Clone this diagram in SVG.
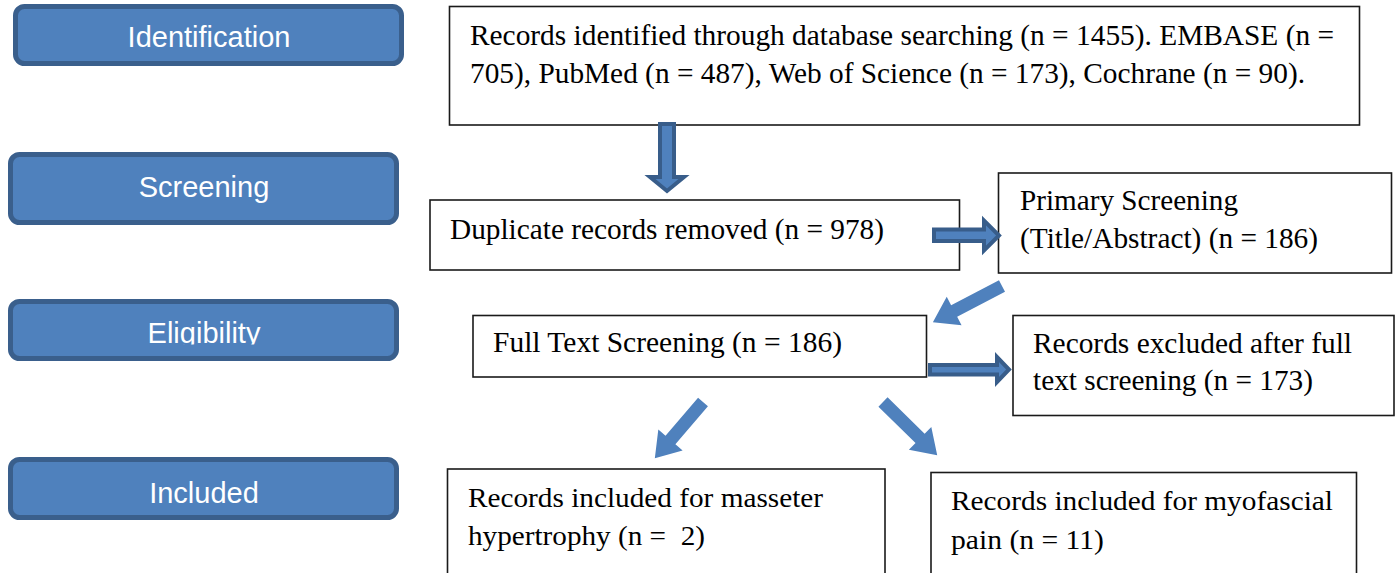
<svg xmlns="http://www.w3.org/2000/svg" width="1400" height="573" viewBox="0 0 1400 573">
<style>
.stage rect{fill:#4F81BD;stroke:#3A5F8C;stroke-width:5}
.stage text{font-family:"Liberation Sans",Arial,sans-serif;font-size:29px;fill:#ffffff;text-anchor:middle}
.box rect{fill:#ffffff;stroke:#1a1a1a;stroke-width:1.6}
.box text{font-family:"Liberation Serif","Times New Roman",serif;font-size:29px;fill:#000000}
.box text.sm{font-size:27px}
.pre{white-space:pre}
.blk{fill:#4F81BD;stroke:#385D8A;stroke-width:4;stroke-linejoin:miter}
.diag{fill:#4F81BD;stroke:none}
</style>
<defs>
<clipPath id="clipElig"><rect x="0" y="299" width="420" height="45.5"/></clipPath>
</defs>
<rect x="0" y="0" width="1400" height="573" fill="#ffffff"/>

<g id="stage-identification" class="stage">
<rect x="15.5" y="6.5" width="386" height="57" rx="9"/>
<text x="209" y="47">Identification</text>
</g>
<g id="stage-screening" class="stage">
<rect x="10.5" y="154.5" width="386" height="68" rx="9"/>
<text x="204" y="197">Screening</text>
</g>
<g id="stage-eligibility" class="stage">
<rect x="10.5" y="301.5" width="386" height="57" rx="9"/>
<text x="204" y="343" clip-path="url(#clipElig)">Eligibility</text>
</g>
<g id="stage-included" class="stage">
<rect x="10.5" y="459.5" width="386" height="58" rx="9"/>
<text x="204" y="503">Included</text>
</g>

<g id="box-identified" class="box">
<rect x="449.5" y="6.5" width="910" height="118.5"/>
<text x="470" y="45" textLength="864" lengthAdjust="spacingAndGlyphs">Records identified through database searching (n = 1455). EMBASE (n =</text>
<text x="470" y="83" textLength="835" lengthAdjust="spacingAndGlyphs">705), PubMed (n = 487), Web of Science (n = 173), Cochrane (n = 90).</text>
</g>
<g id="box-duplicates" class="box">
<rect x="430" y="200" width="529.5" height="70"/>
<text x="450" y="239" textLength="434" lengthAdjust="spacingAndGlyphs">Duplicate records removed (n = 978)</text>
</g>
<g id="box-primary" class="box">
<rect x="998.5" y="173" width="393" height="100"/>
<text x="1020" y="210" textLength="218" lengthAdjust="spacingAndGlyphs">Primary Screening</text>
<text x="1020" y="248" textLength="298" lengthAdjust="spacingAndGlyphs">(Title/Abstract) (n = 186)</text>
</g>
<g id="box-fulltext" class="box">
<rect x="473" y="315.5" width="453.5" height="61.5"/>
<text x="493" y="352" textLength="349" lengthAdjust="spacingAndGlyphs">Full Text Screening (n = 186)</text>
</g>
<g id="box-excluded" class="box">
<rect x="1013" y="315.5" width="381" height="100"/>
<text x="1033" y="353" textLength="319" lengthAdjust="spacingAndGlyphs">Records excluded after full</text>
<text x="1033" y="390" textLength="280" lengthAdjust="spacingAndGlyphs">text screening (n = 173)</text>
</g>
<g id="box-masseter" class="box">
<rect x="447.5" y="469" width="437.5" height="120"/>
<text class="sm" x="468" y="507" textLength="355" lengthAdjust="spacingAndGlyphs">Records included for masseter</text>
<text class="sm pre" x="468" y="545" textLength="237" lengthAdjust="spacingAndGlyphs" xml:space="preserve">hypertrophy (n =  2)</text>
</g>
<g id="box-myofascial" class="box">
<rect x="931" y="472.5" width="425.5" height="120"/>
<text class="sm" x="951" y="510" textLength="382" lengthAdjust="spacingAndGlyphs">Records included for myofascial</text>
<text class="sm" x="951" y="549" textLength="153" lengthAdjust="spacingAndGlyphs">pain (n = 11)</text>
</g>

<g id="connectors">
<path class="blk" d="M660,124 L674,124 L674,177 L684,177 L667,191 L650,177 L660,177 Z"/>
<path class="blk" d="M934,229.5 L984,229.5 L984,220.5 L999,235.5 L984,250.5 L984,241 L934,241 Z"/>
<path class="blk" stroke-width="3.5" d="M930,365 L997,365 L997,357 L1009,369.5 L997,382 L997,374.5 L930,374.5 Z"/>
<path class="diag" transform="translate(1002,286) rotate(152.4)" d="M0,-6.5 L54,-6.5 L54,-16 L78,0 L54,16 L54,6.5 L0,6.5 Z"/>
<path class="diag" transform="translate(703,402) rotate(130.6)" d="M0,-6.5 L50,-6.5 L50,-16 L74,0 L50,16 L50,6.5 L0,6.5 Z"/>
<path class="diag" transform="translate(883,402) rotate(44.5)" d="M0,-6.5 L52,-6.5 L52,-16 L76,0 L52,16 L52,6.5 L0,6.5 Z"/>
</g>
</svg>
